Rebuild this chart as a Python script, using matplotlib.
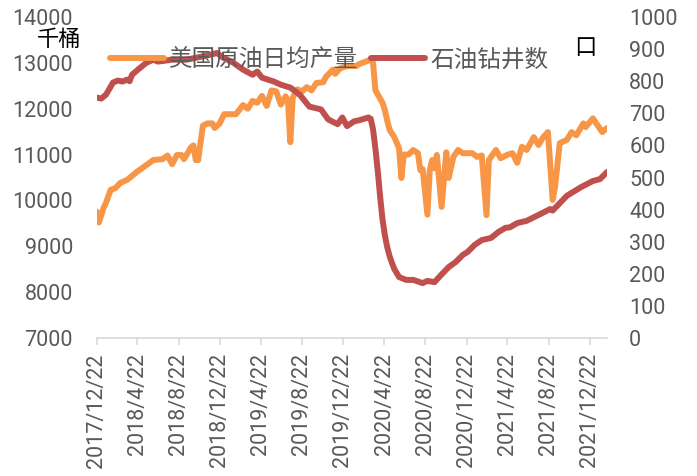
import numpy as np
import pandas as pd
import matplotlib
matplotlib.use('Agg')
import matplotlib.pyplot as plt

plt.rcParams['font.family'] = ['Roboto', 'Noto Sans CJK SC', 'DejaVu Sans']

# weekly data, counted in weeks from 2017/12/22
start = pd.Timestamp('2017-12-22')

# US crude oil daily output (thousand barrels)
prod_week = [0, 1, 3, 4, 6, 8, 10, 13, 17, 20, 24, 28, 30, 32, 34, 36, 37, 40, 41, 42,
             43, 45, 47, 49, 50, 52, 54, 59, 62, 64, 66, 68, 70, 72, 74, 76, 78, 80, 81, 82,
             83, 85, 87, 89, 91, 93, 96, 97, 100, 101, 103, 106, 110, 111, 114, 116, 117, 118,
             121, 122, 123, 124, 126, 128, 129, 130, 132, 134, 136, 137, 138, 140, 141, 142,
             143, 144, 146, 148, 149, 151, 153, 155, 159, 161, 163, 165, 166, 169, 171, 174,
             176, 178, 180, 182, 185, 187, 189, 191, 193, 194, 196, 199, 201, 203, 206, 207,
             210, 212, 214, 216]
prod_val = [9760, 9520, 9840, 9950, 10230, 10270, 10380, 10450, 10620, 10730, 10880, 10900,
            10980, 10790, 10990, 10990, 10900, 11160, 11200, 10880,
            10880, 11630, 11680, 11680, 11580, 11670, 11880, 11880, 12080, 12000, 12170, 12130,
            12280, 12060, 12400, 12380, 12090, 12270, 12170, 11270,
            12240, 12420, 12380, 12470, 12400, 12560, 12580, 12690, 12850, 12760, 12880, 12930,
            12930, 12970, 13030, 13070, 13000, 12400,
            12130, 11970, 11740, 11540, 11380, 11140, 10490, 11000, 11000, 11100, 11030, 10660,
            10680, 9690, 10660, 10880,
            10700, 10990, 9860, 11050, 10490, 10950, 11100, 11030, 11030, 10950, 10980, 9680,
            10880, 11100, 10920, 11000,
            11030, 10820, 11170, 11100, 11380, 11210, 11380, 11490, 10010, 10290, 11250, 11320,
            11490, 11420, 11680, 11600,
            11790, 11640, 11490, 11580]

# oil rig count
rig_week = [0, 2, 4, 7, 9, 11, 13, 14, 15, 18, 21, 24, 26, 32, 38, 44, 48, 51, 53, 58,
            62, 66, 68, 70, 75, 78, 82, 86, 90, 95, 98, 102, 104, 106, 109, 111, 115, 116, 117, 118,
            119, 120, 121, 122, 123, 124, 125, 126, 128, 131, 134, 138, 140, 143, 146, 149, 152,
            155, 157, 160, 163, 167, 170, 173, 175, 178, 182, 188, 192, 193, 199, 205, 210,
            213, 216]
rig_val = [749, 746, 758, 796, 802, 799, 805, 800, 820, 839, 857, 867, 861, 867, 867, 876,
           882, 888, 876, 857,
           836, 820, 830, 811, 799, 789, 780, 758, 721, 712, 681, 666, 687, 660, 675, 678, 687,
           683, 650, 590,
           520, 440, 370, 320, 283, 255, 234, 215, 190, 181, 181, 171, 178, 174, 198, 221, 237,
           259, 268, 290, 305, 312, 330, 343, 345, 358, 365, 387, 402, 397, 443, 470, 489,
           495, 517]

tick_labels = ['2017/12/22', '2018/4/22', '2018/8/22', '2018/12/22', '2019/4/22',
               '2019/8/22', '2019/12/22', '2020/4/22', '2020/8/22', '2020/12/22',
               '2021/4/22', '2021/8/22', '2021/12/22']

prod_dates = start + pd.to_timedelta(np.array(prod_week) * 7, unit='D')
rig_dates = start + pd.to_timedelta(np.array(rig_week) * 7, unit='D')
tick_dates = pd.to_datetime(tick_labels, format='%Y/%m/%d')

orange = '#F79646'
red = '#C0504D'
grey = '#595959'

fig = plt.figure(figsize=(6.97, 4.76), dpi=100)
ax = fig.add_axes([0.1385, 0.2899, 0.7324, 0.6744])
ax2 = ax.twinx()

l1, = ax.plot(prod_dates, prod_val, color=orange, lw=4.3, solid_capstyle='round',
              solid_joinstyle='round', label='美国原油日均产量')
l2, = ax2.plot(rig_dates, rig_val, color=red, lw=4.3, solid_capstyle='round',
               solid_joinstyle='round', label='石油钻井数')

ax.set_xlim(start, start + pd.Timedelta(days=216 * 7))
ax.set_ylim(7000, 14000)
ax2.set_ylim(0, 1000)
ax.set_yticks(range(7000, 14001, 1000))
ax2.set_yticks(range(0, 1001, 100))
ax.set_xticks(tick_dates)
ax.set_xticklabels(tick_labels, rotation=90)

for a in (ax, ax2):
    for s in ('top', 'left', 'right'):
        a.spines[s].set_visible(False)
    a.spines['bottom'].set_color('#D9D9D9')
    a.spines['bottom'].set_linewidth(1.2)
ax2.spines['bottom'].set_visible(False)

ax.tick_params(axis='x', colors='#D9D9D9', length=5, width=1.2, pad=6,
               labelcolor=grey, labelsize=15.5)
ax.tick_params(axis='y', length=0, pad=17, labelcolor=grey, labelsize=15.5)
ax2.tick_params(axis='y', length=0, pad=16, labelcolor=grey, labelsize=15.5)

# unit labels
fig.text(59 / 697, 1 - 39 / 476, '千桶', ha='center', va='center', fontsize=16,
         family=['Noto Sans CJK SC'], color='black')
fig.text(585 / 697, 1 - 47 / 476, '口', ha='center', va='center', fontsize=16,
         family=['Noto Sans CJK SC'], color='black')

leg = fig.legend(handles=[l1, l2], loc='center left', bbox_to_anchor=(110 / 697, 1 - 60 / 476),
                 ncol=2, frameon=False, borderpad=0, borderaxespad=0, handlelength=2.3,
                 handletextpad=0.2, columnspacing=0.55,
                 prop={'family': ['Noto Sans CJK SC'], 'size': 17, 'weight': 'light'})
for t in leg.get_texts():
    t.set_color(grey)

fig.savefig('out.png', dpi=100)
